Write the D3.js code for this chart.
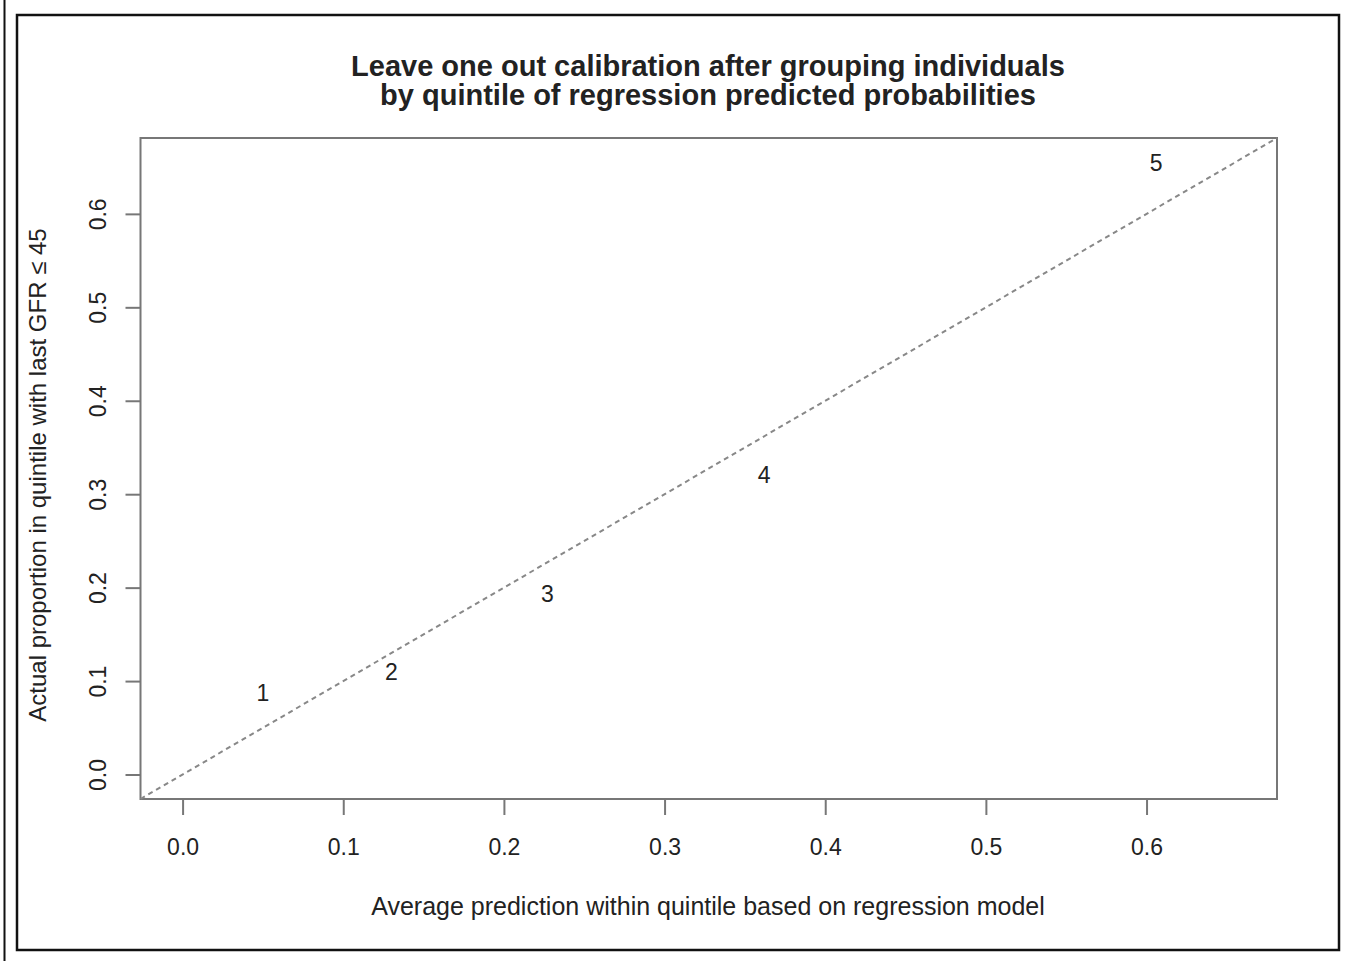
<!DOCTYPE html>
<html>
<head>
<meta charset="utf-8">
<script src="https://cdn.jsdelivr.net/npm/d3@7"></script>
<style>
  body { margin: 0; background: #fff; }
  text { font-family: "Liberation Sans", Arial, sans-serif; fill: #222; }
</style>
</head>
<body>
<svg id="graph" width="1348" height="961"></svg>
<script>
// quintile groups
var quintiles = ["1", "2", "3", "4", "5"];
var predicted = [0.050, 0.130, 0.227, 0.362, 0.606];
var actual = [0.087, 0.110, 0.193, 0.321, 0.654];
var tickValues = [0.0, 0.1, 0.2, 0.3, 0.4, 0.5, 0.6];

var data = quintiles.map((q, i) => ({ q: q, x: predicted[i], y: actual[i] }));

var svg = d3.select("#graph");

// marcos exteriores
svg.append("line")
    .attr("x1", 4.5).attr("x2", 4.5).attr("y1", 0).attr("y2", 961)
    .attr("stroke", "#111").attr("stroke-width", 2);
svg.append("rect")
    .attr("x", 17).attr("y", 15).attr("width", 1322).attr("height", 935)
    .attr("fill", "none").attr("stroke", "#111").attr("stroke-width", 2.5);

var box = { left: 140.5, top: 138, right: 1277, bottom: 799 };
var dom = [-0.0262, 0.6812];

var x = d3.scaleLinear().domain(dom).range([box.left, box.right]);
var y = d3.scaleLinear().domain(dom).range([box.bottom, box.top]);

// caja del grafico
svg.append("rect")
    .attr("x", box.left).attr("y", box.top)
    .attr("width", box.right - box.left).attr("height", box.bottom - box.top)
    .attr("fill", "none").attr("stroke", "#777").attr("stroke-width", 2);

// ejes
var fmt = d3.format(".1f");
var xAxis = svg.append("g")
    .attr("transform", "translate(0," + box.bottom + ")")
    .call(d3.axisBottom(x).tickValues(tickValues).tickFormat(fmt).tickSize(16).tickPadding(24));
var yAxis = svg.append("g")
    .attr("transform", "translate(" + box.left + ",0)")
    .call(d3.axisLeft(y).tickValues(tickValues).tickFormat(fmt).tickSize(15).tickPadding(10));

[xAxis, yAxis].forEach(a => {
    a.select(".domain").remove();
    a.selectAll(".tick line").attr("stroke", "#777").attr("stroke-width", 2);
    a.selectAll(".tick text").attr("fill", "#222").style("font-size", "23px")
        .style("font-family", "Liberation Sans, Arial, sans-serif");
});
yAxis.selectAll(".tick text")
    .attr("x", null).attr("dy", null)
    .attr("text-anchor", "middle")
    .attr("transform", "translate(-43,0) rotate(-90)")
    .attr("dominant-baseline", "central");

// linea diagonal y = x
svg.append("line")
    .attr("x1", x(dom[0])).attr("y1", y(dom[0]))
    .attr("x2", x(dom[1])).attr("y2", y(dom[1]))
    .attr("stroke", "#888").attr("stroke-width", 2)
    .attr("stroke-dasharray", "5,4");

// etiquetas de los quintiles
svg.append("g").selectAll("text")
    .data(data)
    .enter()
    .append("text")
    .attr("x", d => x(d.x))
    .attr("y", d => y(d.y))
    .attr("text-anchor", "middle")
    .attr("dominant-baseline", "central")
    .style("font-size", "23px")
    .text(d => d.q);

// titulos
var title = svg.append("text")
    .attr("x", 708).attr("text-anchor", "middle")
    .style("font-size", "29px").style("font-weight", "bold");
title.append("tspan").attr("x", 708).attr("y", 76).text("Leave one out calibration after grouping individuals");
title.append("tspan").attr("x", 708).attr("y", 105).text("by quintile of regression predicted probabilities");

svg.append("text")
    .attr("x", 708).attr("y", 915).attr("text-anchor", "middle")
    .style("font-size", "25px")
    .text("Average prediction within quintile based on regression model");

svg.append("text")
    .attr("transform", "translate(46,475) rotate(-90)")
    .attr("text-anchor", "middle")
    .style("font-size", "24px")
    .text("Actual proportion in quintile with last GFR \u2264 45");
</script>
</body>
</html>
